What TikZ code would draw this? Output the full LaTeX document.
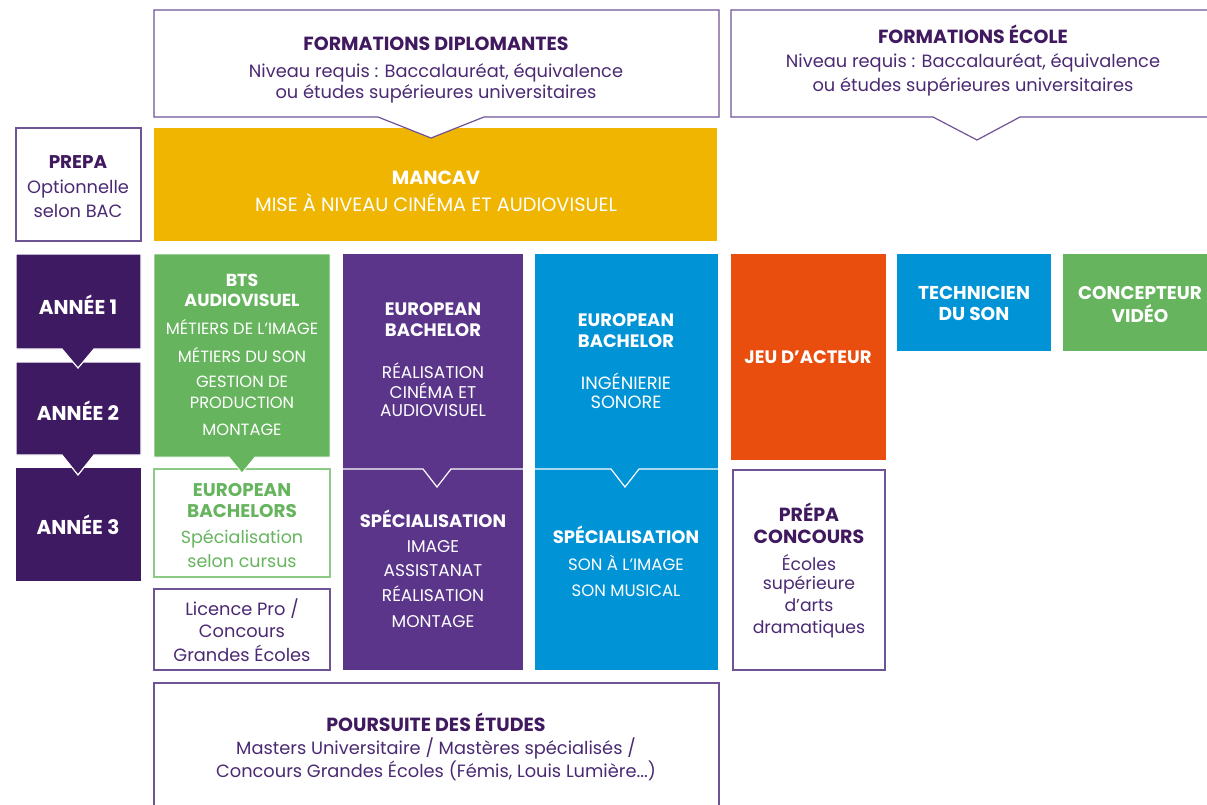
\documentclass[tikz,border=0pt]{standalone}
\usepackage{fontspec}
\setmainfont{Poppins}
\definecolor{dpurple}{HTML}{3E1A62}
\definecolor{tpurple}{HTML}{40195F}
\definecolor{rpurple}{HTML}{4B2A73}
\definecolor{bpurple}{HTML}{6E5496}
\definecolor{myellow}{HTML}{F0B500}
\definecolor{mgreen}{HTML}{66B55E}
\definecolor{lgreen}{HTML}{8CCB86}
\definecolor{cpurple}{HTML}{5B358A}
\definecolor{mblue}{HTML}{0093D6}
\definecolor{morange}{HTML}{E94E0F}
\tikzset{
  outl/.style={draw=bpurple, line width=1.2pt, fill=white},
  solid box/.style={fill=#1, draw=none, inner sep=0pt, anchor=north west},
  tb/.style={font=\fontsize{19}{22}\selectfont\bfseries, text=tpurple, inner sep=0pt},
  tr/.style={font=\fontsize{17.8}{21}\selectfont, text=rpurple, inner sep=0pt},
  wb/.style={font=\fontsize{18}{21}\selectfont\bfseries, text=white, inner sep=0pt},
  wr/.style={font=\fontsize{17}{20}\selectfont, text=white, inner sep=0pt},
  gb/.style={font=\fontsize{18.4}{21}\selectfont\bfseries, text=mgreen, inner sep=0pt},
  gr/.style={font=\fontsize{17.5}{20}\selectfont, text=mgreen, inner sep=0pt},
}
\begin{document}
\begin{tikzpicture}[x=1pt,y=-1pt]
\useasboundingbox (0,0) rectangle (1207,805);
% MANCAV
\node[solid box=myellow, minimum width=563pt, minimum height=113pt] (mancav) at (154,128) {};
% header 1
\draw[outl] (154,10) -- (719,10) -- (719,117) -- (484,117) -- (431,138) -- (378,117) -- (154,117) -- cycle;
\node[tb] (h1a) at (436,44) {FORMATIONS DIPLOMANTES};
\node[tr] (h1b) at (436,73) {Niveau requis : Baccalauréat, équivalence};
\node[tr] (h1c) at (436,94) {ou études supérieures universitaires};
% header 2
\draw[outl] (1210,10) -- (731,10) -- (731,117) -- (933,117) -- (977,140) -- (1020,117) -- (1210,117);
\node[tb] (h2a) at (973,34) {FORMATIONS ÉCOLE};
\node[tr] (h2b) at (973,63) {Niveau requis : Baccalauréat, équivalence};
\node[tr] (h2c) at (973,87) {ou études supérieures universitaires};
% mancav text
\node[wb, font=\fontsize{19}{22}\selectfont\bfseries] (m1) at (436,178) {MANCAV};
\node[wr, font=\fontsize{19.3}{22}\selectfont] (m2) at (436,203) {MISE À NIVEAU CINÉMA ET AUDIOVISUEL};
% prepa
\draw[outl] (16,128) rectangle (141,241);
\node[tb, font=\fontsize{18.4}{22}\selectfont\bfseries] (p1) at (78,162) {PREPA};
\node[tr] (p2) at (78,189) {Optionnelle};
\node[tr] (p3) at (78,211) {selon BAC};
% annees
\node[solid box=dpurple, minimum width=125pt, minimum height=113pt] (a3) at (16,468) {};
\draw[fill=dpurple, draw=white, line width=1.2pt] (16,362) -- (141,362) -- (141,455) -- (94,455) -- (78,475) -- (62,455) -- (16,455) -- cycle;
\draw[fill=dpurple, draw=white, line width=1.2pt] (16,254) -- (141,254) -- (141,349) -- (94,349) -- (78,368) -- (62,349) -- (16,349) -- cycle;
\node[wb, font=\fontsize{20}{22}\selectfont\bfseries] (a1t) at (78,305) {ANNÉE 1};
\node[wb, font=\fontsize{20}{22}\selectfont\bfseries] (a2t) at (78,411) {ANNÉE 2};
\node[wb, font=\fontsize{20}{22}\selectfont\bfseries] (a3t) at (78,525) {ANNÉE 3};
% BTS
\draw[draw=lgreen, line width=1.2pt, fill=white] (154,469) rectangle (330,577);
\draw[fill=mgreen, draw=white, line width=0.8pt] (154,254) -- (330,254) -- (330,457) -- (255,457) -- (242,473) -- (229,457) -- (154,457) -- cycle;
\node[wb, font=\fontsize{17.4}{20}\selectfont\bfseries] (b1) at (242,280) {BTS};
\node[wb, font=\fontsize{17.4}{20}\selectfont\bfseries] (b2) at (242,300) {AUDIOVISUEL};
\node[wr, font=\fontsize{16.3}{19}\selectfont] (b3) at (242,327) {MÉTIERS DE L’IMAGE};
\node[wr, font=\fontsize{16.3}{19}\selectfont] (b4) at (242,355) {MÉTIERS DU SON};
\node[wr, font=\fontsize{16.3}{19}\selectfont] (b5) at (242,382) {GESTION DE};
\node[wr, font=\fontsize{16.3}{19}\selectfont] (b6) at (242,403) {PRODUCTION};
\node[wr, font=\fontsize{16.3}{19}\selectfont] (b7) at (242,430) {MONTAGE};
\node[gb] (e1) at (242,490) {EUROPEAN};
\node[gb] (e2) at (242,511) {BACHELORS};
\node[gr] (e3) at (242,539) {Spécialisation};
\node[gr] (e4) at (242,561) {selon cursus};
% licence
\draw[outl] (154,589) rectangle (330,670);
\node[tr] (l1) at (242,609) {Licence Pro /};
\node[tr] (l2) at (242,631) {Concours};
\node[tr] (l3) at (242,653) {Grandes Écoles};
% purple column
\node[solid box=cpurple, minimum width=180pt, minimum height=416pt] (col2) at (343,254) {};
\draw[white, line width=1.2pt] (343,469) -- (423,469) -- (437,487) -- (451,469) -- (523,469);
\node[wb] (c1) at (433,309) {EUROPEAN};
\node[wb] (c2) at (433,330) {BACHELOR};
\node[wr] (c3) at (433,371) {RÉALISATION};
\node[wr] (c4) at (433,391) {CINÉMA ET};
\node[wr] (c5) at (433,411) {AUDIOVISUEL};
\node[wb] (c6) at (433,519) {SPÉCIALISATION};
\node[wr] (c7) at (433,547) {IMAGE};
\node[wr] (c8) at (433,571) {ASSISTANAT};
\node[wr] (c9) at (433,594) {RÉALISATION};
\node[wr] (c10) at (433,622) {MONTAGE};
% blue column
\node[solid box=mblue, minimum width=183pt, minimum height=416pt] (col3) at (535,254) {};
\draw[white, line width=1.2pt] (535,469) -- (611,469) -- (625,487) -- (639,469) -- (718,469);
\node[wb] (d1) at (626,320) {EUROPEAN};
\node[wb] (d2) at (626,341) {BACHELOR};
\node[wr, font=\fontsize{17.8}{20}\selectfont] (d3) at (626,381) {INGÉNIERIE};
\node[wr, font=\fontsize{17.8}{20}\selectfont] (d4) at (626,402) {SONORE};
\node[wb] (d5) at (626,535) {SPÉCIALISATION};
\node[wr, font=\fontsize{16.5}{20}\selectfont] (d6) at (626,563) {SON À L’IMAGE};
\node[wr, font=\fontsize{16.5}{20}\selectfont] (d7) at (626,591) {SON MUSICAL};
% jeu d'acteur
\node[solid box=morange, minimum width=155pt, minimum height=206pt] (jeu) at (731,254) {};
\node[wb] (j1) at (808,357) {JEU D’ACTEUR};
% technicien
\node[solid box=mblue, minimum width=154pt, minimum height=97pt] (tech) at (897,254) {};
\node[wb, font=\fontsize{18.6}{21}\selectfont\bfseries] (tc1) at (974,293) {TECHNICIEN};
\node[wb, font=\fontsize{18.6}{21}\selectfont\bfseries] (tc2) at (974,314) {DU SON};
% concepteur
\node[solid box=mgreen, minimum width=150pt, minimum height=97pt] (conc) at (1063,254) {};
\node[wb, font=\fontsize{18.4}{21}\selectfont\bfseries] (cc1) at (1140,293) {CONCEPTEUR};
\node[wb, font=\fontsize{18.4}{21}\selectfont\bfseries] (cc2) at (1140,314) {VIDÉO};
% prepa concours
\draw[outl] (733,470) rectangle (885,670);
\node[tb] (pc1) at (809,512) {PRÉPA};
\node[tb] (pc2) at (809,537) {CONCOURS};
\node[tr, font=\fontsize{17.3}{20}\selectfont] (pc3) at (809,563) {Écoles};
\node[tr, font=\fontsize{17.3}{20}\selectfont] (pc4) at (809,585) {supérieure};
\node[tr, font=\fontsize{17.3}{20}\selectfont] (pc5) at (809,605) {d’arts};
\node[tr, font=\fontsize{17.3}{20}\selectfont] (pc6) at (809,629) {dramatiques};
% poursuite
\draw[outl] (154,810) -- (154,683) -- (719,683) -- (719,810);
\node[tb] (ps1) at (436,722) {POURSUITE DES ÉTUDES};
\node[tr] (ps2) at (436,748) {Masters Universitaire / Mastères spécialisés /};
\node[tr] (ps3) at (436,771) {Concours Grandes Écoles (Fémis, Louis Lumière...)};
\end{tikzpicture}
\end{document}
